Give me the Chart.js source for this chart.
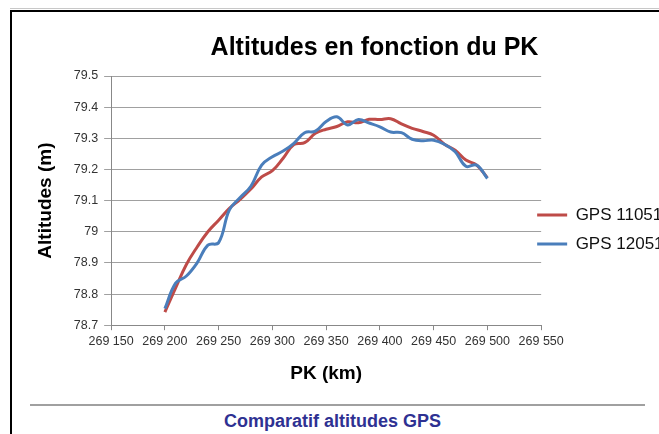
<!DOCTYPE html>
<html lang="fr">
<head>
    <meta charset="UTF-8">
    <title>Altitudes en fonction du PK</title>
    <script src="https://cdn.jsdelivr.net/npm/chart.js"></script>
    <style>
        body {
            margin: 0;
            width: 659px;
            height: 434px;
            overflow: hidden;
            background: #fff;
            font-family: "Liberation Sans", Arial, sans-serif;
        }
        #topline {
            position: absolute;
            left: 10px;
            top: 8px;
            width: 700px;
            height: 1px;
            background: #c8c8c8;
        }
        #frame {
            position: absolute;
            left: 10px;
            top: 10px;
            width: 700px;
            height: 460px;
            border-left: 2px solid #000;
            border-top: 2px solid #000;
        }
        #wrap {
            position: absolute;
            left: 14px;
            top: 14px;
            width: 720px;
            height: 381px;
        }
        #rule {
            position: absolute;
            left: 30px;
            top: 404px;
            width: 615px;
            height: 2px;
            background: #a0a0a0;
        }
        #caption {
            position: absolute;
            left: 3px;
            top: 410px;
            width: 659px;
            line-height: 22px;
            text-align: center;
            font-weight: bold;
            font-size: 18px;
            color: #2e3192;
        }
    </style>
</head>
<body>
    <div id="topline"></div>
    <div id="frame"></div>
    <div id="wrap"><canvas id="altChart"></canvas></div>
    <div id="rule"></div>
    <div id="caption">Comparatif altitudes GPS</div>

    <script>
        // PK (km) sampled every 10
        const pk = [269200, 269210, 269220, 269230, 269240, 269250, 269260, 269270, 269280, 269290,
                    269300, 269310, 269320, 269330, 269340, 269350, 269360, 269370, 269380, 269390,
                    269400, 269410, 269420, 269430, 269440, 269450, 269460, 269470, 269480, 269490,
                    269500];

        // altitudes (m) for the two GPS surveys
        const gps110516 = [78.742, 78.820, 78.895, 78.951, 79.000, 79.037, 79.075, 79.104, 79.137, 79.176,
                           79.196, 79.236, 79.280, 79.286, 79.316, 79.329, 79.338, 79.353, 79.350, 79.361,
                           79.360, 79.363, 79.346, 79.332, 79.322, 79.310, 79.281, 79.262, 79.230, 79.214,
                           79.173];
        const gps120516 = [78.753, 78.835, 78.858, 78.900, 78.957, 78.965, 79.070, 79.110, 79.146, 79.214,
                           79.241, 79.259, 79.284, 79.318, 79.323, 79.354, 79.369, 79.343, 79.360, 79.349,
                           79.337, 79.320, 79.318, 79.297, 79.292, 79.294, 79.281, 79.257, 79.210, 79.214,
                           79.171];

        const xTicks = [269150, 269550, 50];   // min, max, step
        const yTicks = [78.7, 79.5, 0.1];

        const FONT = '"Liberation Sans", Arial, sans-serif';

        function toPoints(values) {
            return pk.map((x, i) => ({ x: x, y: values[i] }));
        }

        // move the legend next to the curve ends and centre the title on the plot
        const boxNudge = {
            id: 'boxNudge',
            afterLayout(chart) {
                const lg = chart.legend;
                lg.left -= 16; lg.right -= 16;
                lg.top += 30; lg.bottom += 30;
                const tb = chart.titleBlock;
                tb.left += 8; tb.right += 8;
            }
        };

        new Chart(document.getElementById('altChart'), {
            type: 'line',
            data: {
                datasets: [{
                    label: 'GPS 110516',
                    data: toPoints(gps110516),
                    borderColor: '#be4b48',
                    backgroundColor: '#be4b48',
                    borderWidth: 3,
                    pointRadius: 0,
                    tension: 0.4,
                    fill: false,
                    order: 1
                }, {
                    label: 'GPS 120516',
                    data: toPoints(gps120516),
                    borderColor: '#4a7ebb',
                    backgroundColor: '#4a7ebb',
                    borderWidth: 3,
                    pointRadius: 0,
                    tension: 0.4,
                    fill: false,
                    order: 0
                }]
            },
            options: {
                responsive: true,
                maintainAspectRatio: false,
                animation: false,
                layout: { padding: { left: 20, right: 35, top: 0, bottom: 10 } },
                plugins: {
                    title: {
                        display: true,
                        text: 'Altitudes en fonction du PK',
                        color: '#000',
                        font: { family: FONT, size: 25, weight: 'bold' },
                        padding: { top: 19, bottom: 13 }
                    },
                    legend: {
                        position: 'right',
                        labels: {
                            boxWidth: 30,
                            boxHeight: 0,
                            padding: 12,
                            color: '#111',
                            font: { family: FONT, size: 17 },
                            sort: (a, b) => a.datasetIndex - b.datasetIndex
                        }
                    },
                    tooltip: { enabled: false }
                },
                scales: {
                    x: {
                        type: 'linear',
                        min: xTicks[0],
                        max: xTicks[1],
                        ticks: {
                            stepSize: xTicks[2],
                            color: '#333',
                            padding: 4,
                            maxRotation: 0,
                            font: { family: FONT, size: 12.5 },
                            callback: v => String(v).replace(/(\d{3})$/, ' $1')
                        },
                        grid: { drawOnChartArea: false, tickLength: 5, color: '#888' },
                        border: { color: '#888' },
                        title: {
                            display: true,
                            text: 'PK (km)',
                            color: '#000',
                            font: { family: FONT, size: 19, weight: 'bold' },
                            padding: { top: 9, bottom: 0 }
                        }
                    },
                    y: {
                        min: yTicks[0],
                        max: yTicks[1],
                        ticks: {
                            stepSize: yTicks[2],
                            color: '#333',
                            padding: 6,
                            font: { family: FONT, size: 12.5 },
                            callback: v => String(Math.round(v * 10) / 10)
                        },
                        grid: { color: '#a0a0a0', tickLength: 7 },
                        border: { color: '#888' },
                        title: {
                            display: true,
                            text: 'Altitudes (m)',
                            color: '#000',
                            font: { family: FONT, size: 19, weight: 'bold' },
                            padding: { top: 0, bottom: 11 }
                        }
                    }
                }
            },
            plugins: [boxNudge]
        });
    </script>
</body>
</html>
